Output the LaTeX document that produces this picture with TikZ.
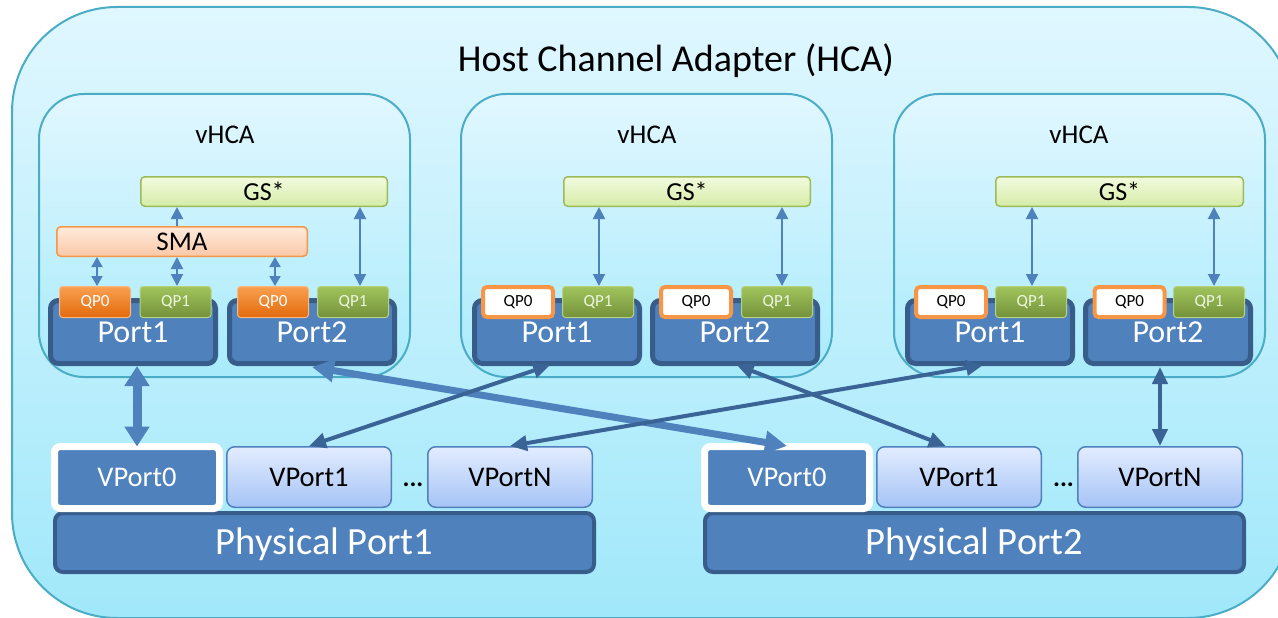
\documentclass[tikz,border=0pt]{standalone}
\usepackage{fontspec}
\setmainfont{Carlito}
\usetikzlibrary{arrows.meta,calc}
\definecolor{hcaBorder}{RGB}{75,172,198}
\definecolor{hcaTop}{RGB}{224,247,255}
\definecolor{hcaBot}{RGB}{160,232,250}
\definecolor{vTop}{RGB}{225,247,255}
\definecolor{vBot}{RGB}{168,235,251}
\definecolor{gsBorder}{RGB}{155,187,89}
\definecolor{gsTop}{RGB}{242,250,222}
\definecolor{gsBot}{RGB}{214,236,168}
\definecolor{smaBorder}{RGB}{247,150,70}
\definecolor{smaTop}{RGB}{253,235,220}
\definecolor{smaBot}{RGB}{251,200,168}
\definecolor{qpoTop}{RGB}{250,160,80}
\definecolor{qpoBot}{RGB}{226,106,12}
\definecolor{qpoBorder}{RGB}{250,185,130}
\definecolor{qpgTop}{RGB}{160,196,92}
\definecolor{qpgBot}{RGB}{116,146,58}
\definecolor{qpgBorder}{RGB}{185,210,130}
\definecolor{qpgText}{RGB}{236,246,222}
\definecolor{portFill}{RGB}{79,129,189}
\definecolor{portBorder}{RGB}{56,93,138}
\definecolor{vpTop}{RGB}{226,236,255}
\definecolor{vpBot}{RGB}{166,196,246}
\definecolor{arrLight}{RGB}{79,129,189}
\definecolor{arrDark}{RGB}{59,100,150}
\tikzset{
  hcabox/.style={draw=hcaBorder, line width=2pt, rounded corners=105pt, top color=hcaTop, bottom color=hcaBot, inner sep=0pt},
  vhcabox/.style={draw=hcaBorder, line width=2pt, rounded corners=45pt, top color=vTop, bottom color=vBot, inner sep=0pt, minimum width=371pt, minimum height=283pt},
  gsbox/.style={draw=gsBorder, line width=1.5pt, rounded corners=4pt, top color=gsTop, bottom color=gsBot, inner sep=0pt, minimum height=29.5pt, font=\fontsize{26}{30}\selectfont},
  smabox/.style={draw=smaBorder, line width=1.5pt, rounded corners=4pt, top color=smaTop, bottom color=smaBot, inner sep=0pt, minimum height=29.5pt, font=\fontsize{27}{30}\selectfont},
  portbox/.style={draw=portBorder, line width=5pt, fill=portFill, rounded corners=8pt, inner sep=0pt, minimum width=165pt, minimum height=63pt, text=white, font=\fontsize{32}{36}\selectfont},
  qpo/.style={draw=qpoBorder, line width=1pt, top color=qpoTop, bottom color=qpoBot, rounded corners=3pt, inner sep=0pt, minimum width=71pt, minimum height=31pt, text=white, font=\fontsize{17}{20}\selectfont},
  qpg/.style={draw=qpgBorder, line width=1pt, top color=qpgTop, bottom color=qpgBot, rounded corners=3pt, inner sep=0pt, minimum width=71pt, minimum height=31pt, text=qpgText, font=\fontsize{17}{20}\selectfont},
  qpw/.style={draw=smaBorder, line width=4pt, fill=white, rounded corners=4pt, inner sep=0pt, minimum width=70pt, minimum height=30pt, text=black, font=\fontsize{17}{20}\selectfont},
  physbox/.style={draw=portBorder, line width=4pt, fill=portFill, rounded corners=8pt, inner sep=0pt, minimum width=539pt, minimum height=59pt, text=white, text height=23pt, text depth=0pt, font=\fontsize{38.5}{42}\selectfont},
  vpzero/.style={draw=white, line width=7pt, fill=portFill, rounded corners=6pt, inner sep=0pt, minimum width=165pt, minimum height=62pt, text=white, font=\fontsize{28.5}{32}\selectfont},
  vpbox/.style={draw=portFill, line width=1.5pt, rounded corners=8pt, top color=vpTop, bottom color=vpBot, inner sep=0pt, minimum width=164.5pt, minimum height=60.5pt, text=black, font=\fontsize{28.5}{32}\selectfont},
  lbl/.style={inner sep=0pt, anchor=base, text=black},
  thinarr/.style={draw=arrLight, line width=2pt, {Triangle[length=12pt,width=12pt]}-{Triangle[length=12pt,width=12pt]}},
  tinyarr/.style={draw=arrLight, line width=2pt, {Triangle[length=10pt,width=11pt]}-{Triangle[length=10pt,width=11pt]}},
  uparr/.style={draw=arrLight, line width=2pt, {Triangle[length=12pt,width=12pt]}-},
  crossarr/.style={draw=arrDark, line width=4pt, {Triangle[length=17pt,width=15pt]}-{Triangle[length=17pt,width=15pt]}},
  thickarr/.style={draw=arrLight, line width=7pt, {Triangle[length=22pt,width=22pt]}-{Triangle[length=22pt,width=22pt]}},
  thickvarr/.style={draw=arrLight, line width=9pt, {Triangle[length=20pt,width=24pt]}-{Triangle[length=20pt,width=24pt]}}
}
\begin{document}
\begin{tikzpicture}[x=1pt,y=-1pt]
\useasboundingbox (0,0) rectangle (1278,618);
\clip (0,0) rectangle (1278,618);
% outer HCA
\node[hcabox, minimum width=1281pt, minimum height=611pt] (hca) at (652.5,312.5) {};
\node[lbl, font=\fontsize{38}{42}\selectfont] (title) at (676,71) {Host Channel Adapter (HCA)};
% vHCA boxes
\node[vhcabox] (vh1) at (224.5,235.5) {};
\node[vhcabox] (vh2) at (646.5,235.5) {};
\node[vhcabox] (vh3) at (1079.5,235.5) {};
\node[lbl, font=\fontsize{27}{30}\selectfont] (vl1) at (225,143) {vHCA};
\node[lbl, font=\fontsize{27}{30}\selectfont] (vl2) at (647,143) {vHCA};
\node[lbl, font=\fontsize{27}{30}\selectfont] (vl3) at (1079,143) {vHCA};
% GS* and SMA
\node[gsbox, minimum width=246.5pt] (gs1) at (264,191.5) {GS*};
\node[gsbox, minimum width=246.5pt] (gs2) at (687,191.5) {GS*};
\node[gsbox, minimum width=247.5pt] (gs3) at (1119.5,191.5) {GS*};
\node[smabox, minimum width=250.5pt] (sma) at (182,241.5) {SMA};
% ports
\node[portbox] (v1p1) at (133,332) {Port1};
\node[portbox] (v1p2) at (312,332) {Port2};
\node[portbox] (v2p1) at (557,332) {Port1};
\node[portbox] (v2p2) at (735,332) {Port2};
\node[portbox] (v3p1) at (990,332) {Port1};
\node[portbox] (v3p2) at (1168,332) {Port2};
% QPs
\node[qpo] (v1q0a) at (95,302) {QP0};
\node[qpg] (v1q1a) at (175.5,302) {QP1};
\node[qpo] (v1q0b) at (273,302) {QP0};
\node[qpg] (v1q1b) at (353,302) {QP1};
\node[qpw] (v2q0a) at (518,302) {QP0};
\node[qpg] (v2q1a) at (598,302) {QP1};
\node[qpw] (v2q0b) at (696,302) {QP0};
\node[qpg] (v2q1b) at (777,302) {QP1};
\node[qpw] (v3q0a) at (951,302) {QP0};
\node[qpg] (v3q1a) at (1031,302) {QP1};
\node[qpw] (v3q0b) at (1129.5,302) {QP0};
\node[qpg] (v3q1b) at (1209,302) {QP1};
% arrows inside vHCAs
\draw[uparr] ([xshift=1.5pt]v1q1a.north |- gs1.south) -- ([xshift=1.5pt]v1q1a.north |- sma.north);
\draw[thinarr] ([xshift=1.5pt]v1q1a.north |- sma.south) -- ([xshift=1.5pt]v1q1a.north);
\draw[tinyarr] ([xshift=2pt]v1q0a.north |- sma.south) -- ([xshift=2pt]v1q0a.north);
\draw[tinyarr] ([xshift=2pt]v1q0b.north |- sma.south) -- ([xshift=2pt]v1q0b.north);
\draw[thinarr] ([xshift=7pt]v1q1b.north |- gs1.south) -- ([xshift=7pt]v1q1b.north);
\draw[thinarr] ([xshift=1pt]v2q1a.north |- gs2.south) -- ([xshift=1pt]v2q1a.north);
\draw[thinarr] ([xshift=5pt]v2q1b.north |- gs2.south) -- ([xshift=5pt]v2q1b.north);
\draw[thinarr] ([xshift=1pt]v3q1a.north |- gs3.south) -- ([xshift=1pt]v3q1a.north);
\draw[thinarr] ([xshift=5pt]v3q1b.north |- gs3.south) -- ([xshift=5pt]v3q1b.north);
% physical ports
\node[physbox] (pp1) at (324.5,542.5) {Physical Port1};
\node[physbox] (pp2) at (974.5,542.5) {Physical Port2};
\node[vpzero] (a0) at (137,477.5) {VPort0};
\node[vpbox] (a1) at (309,477) {VPort1};
\node[vpbox] (an) at (510,477) {VPortN};
\node[lbl, font=\bfseries\fontsize{26}{30}\selectfont] (adots) at (413,486) {...};
\node[vpzero] (b0) at (787,477.5) {VPort0};
\node[vpbox] (b1) at (959,477) {VPort1};
\node[vpbox] (bn) at (1160,477) {VPortN};
\node[lbl, font=\bfseries\fontsize{26}{30}\selectfont] (bdots) at (1063.5,486) {...};
% connectors between ports
\draw[thickvarr] (a0.north |- v1p1.south) -- ([yshift=-3.5pt]a0.north);
\draw[thickarr] ([yshift=-1pt]v1p2.south) -- ([yshift=-3pt]b0.north);
\draw[crossarr] ($(v2p1.south west)!0.46!(v2p1.south east)+(0,-1)$) -- (a1.north);
\draw[crossarr] ($(v2p2.south west)!0.51!(v2p2.south east)+(0,-1)$) -- ($(b1.north west)!0.42!(b1.north east)$);
\draw[crossarr] ($(v3p1.south west)!0.46!(v3p1.south east)+(0,-1)$) -- (an.north);
\draw[crossarr] ([yshift=-1pt]bn.north |- v3p2.south) -- (bn.north);
\end{tikzpicture}
\end{document}
